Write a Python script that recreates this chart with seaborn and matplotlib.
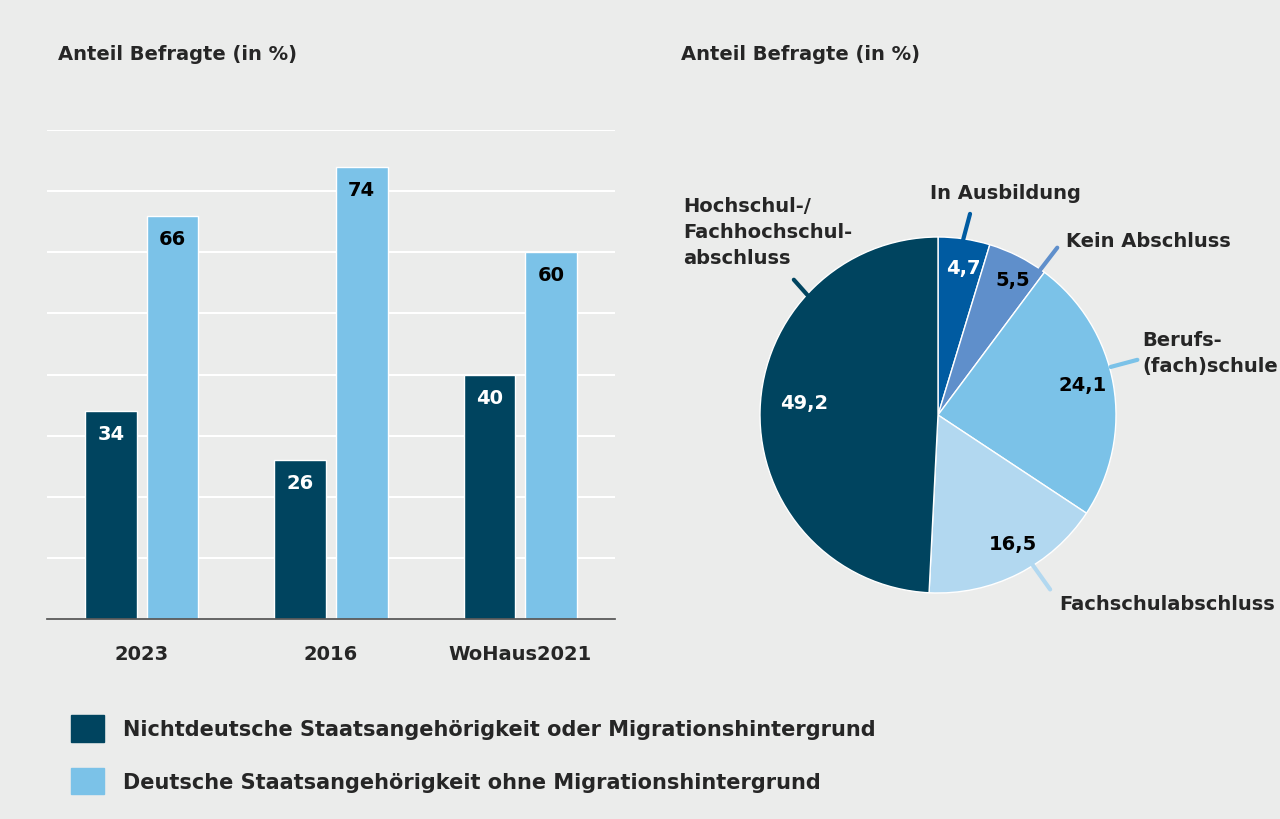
import matplotlib
matplotlib.use("Agg")
import matplotlib.pyplot as plt
import seaborn as sns
import pandas as pd
from matplotlib.patches import Patch

years = ["2023", "2016", "WoHaus2021"]
groups = ["Nichtdeutsche Staatsangehörigkeit oder Migrationshintergrund",
          "Deutsche Staatsangehörigkeit ohne Migrationshintergrund"]
vals_nd = [34, 26, 40]
vals_d = [66, 74, 60]
pie_labels = ["In Ausbildung", "Kein Abschluss", "Berufs-\n(fach)schule",
              "Fachschulabschluss", "Hochschul-/\nFachhochschul-\nabschluss"]
pie_vals = [4.7, 5.5, 24.1, 16.5, 49.2]
pie_txt = ["4,7", "5,5", "24,1", "16,5", "49,2"]

BG = "#ebeceb"
DARK = "#00445f"
LIGHT = "#7bc2e8"
pie_colors = ["#005ba1", "#5f8fcb", "#7bc2e8", "#b2d8f0", DARK]

sns.set_theme(style="white")
plt.rcParams["font.family"] = ["Liberation Sans Narrow", "DejaVu Sans"]
plt.rcParams["font.weight"] = "bold"

fig = plt.figure(figsize=(12.8, 8.2), dpi=100, facecolor=BG)

# Bar chart
ax = fig.add_axes([47/1280, 1-620/820, 568/1280, (620-131)/820])
ax.set_facecolor(BG)
df = pd.DataFrame({"Jahr": years*2, "Gruppe": [groups[0]]*3 + [groups[1]]*3,
                   "Wert": vals_nd + vals_d})
sns.barplot(data=df, x="Jahr", y="Wert", hue="Gruppe", palette=[DARK, LIGHT],
            width=0.65, gap=0.16, ax=ax, legend=False, saturation=1)
ax.set_ylim(0, 80)
ax.set_xlim(-0.5, 2.5)
ax.set_yticks(range(10, 81, 10))
ax.yaxis.grid(True, color="white", lw=1.5)
ax.set_axisbelow(True)
ax.tick_params(axis="y", left=False, labelleft=False)
ax.tick_params(axis="x", labelsize=14, pad=12)
for t in ax.get_xticklabels():
    t.set_fontweight("bold")
ax.set_xlabel(""); ax.set_ylabel("")
for s in ["top", "right", "left"]:
    ax.spines[s].set_visible(False)
ax.spines["bottom"].set_color("#555555")
for i, cont in enumerate(ax.containers):
    for bar in cont:
        h = bar.get_height()
        ax.text(bar.get_x()+bar.get_width()/2, h-3.7, f"{h:.0f}", ha="center", va="center",
                color="white" if i == 0 else "black", fontsize=14, fontweight="bold")

fig.text(58/1280, 1-55/820, "Anteil Befragte (in %)", fontsize=14, fontweight="bold", va="center")
fig.text(681/1280, 1-55/820, "Anteil Befragte (in %)", fontsize=14, fontweight="bold", va="center")

# Pie
pax = fig.add_axes([(938-178)/1280, (820-416-178)/820, 356/1280, 356/820])
pax.pie(pie_vals, colors=pie_colors, startangle=90, counterclock=False, radius=1)
pax.set_xlim(-1, 1); pax.set_ylim(-1, 1)
pax.set_aspect("auto")
inner = [(0.14, 0.83, "white"), (0.42, 0.76, "black"), (0.81, 0.17, "black"),
         (0.42, -0.72, "black"), (-0.75, 0.07, "white")]
for (x, y, c), t in zip(inner, pie_txt):
    pax.text(x, y, t, ha="center", va="center", color=c, fontsize=14, fontweight="bold")
lines = [((0.14, 0.98), (0.18, 1.13)), ((0.57, 0.81), (0.67, 0.94)),
         ((0.97, 0.27), (1.12, 0.31)), ((0.53, -0.84), (0.63, -0.98)),
         ((-0.73, 0.67), (-0.81, 0.76))]
texts = [(0.38, 1.25, "center"), (0.72, 0.98, "left"), (1.15, 0.35, "left"),
         (0.68, -1.06, "left"), (-1.43, 1.03, "left")]
for (p0, p1), (tx, ty, ha), lab, col in zip(lines, texts, pie_labels, pie_colors):
    pax.plot([p0[0], p1[0]], [p0[1], p1[1]], color=col, lw=3, clip_on=False)
    pax.text(tx, ty, lab, ha=ha, va="center", fontsize=14, fontweight="bold",
             linespacing=1.45, clip_on=False)

handles = [Patch(color=DARK), Patch(color=LIGHT)]
fig.legend(handles, groups, loc="upper left", bbox_to_anchor=(52/1280, 1-697/820),
           frameon=False, fontsize=15, handlelength=1.6, handleheight=1.6,
           labelspacing=1.25, handletextpad=0.9, prop={"weight": "bold", "size": 15})

fig.savefig("out.png", dpi=100, facecolor=BG)
